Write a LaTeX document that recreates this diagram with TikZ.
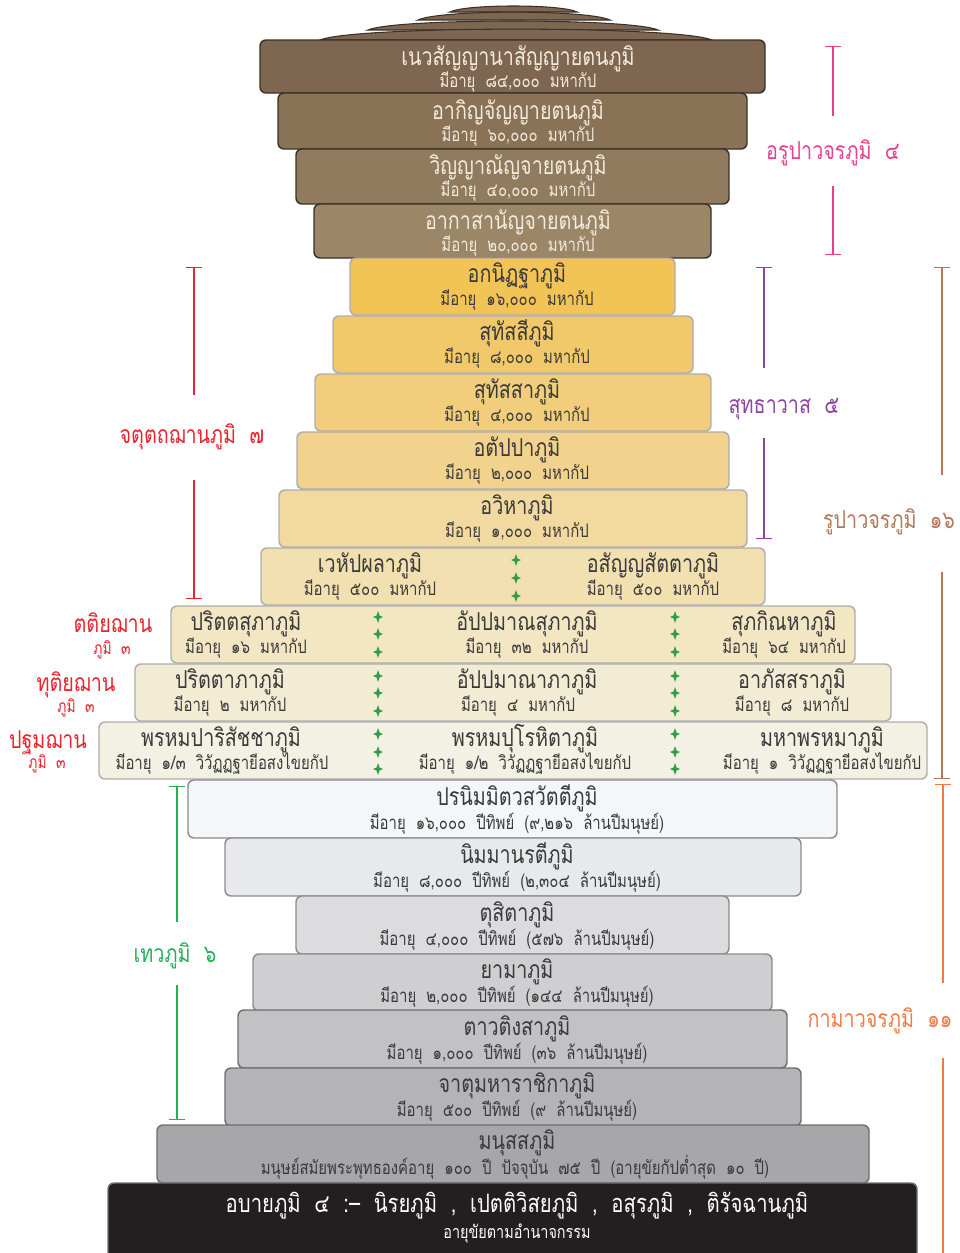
\documentclass[tikz,border=0pt]{standalone}
\usepackage{fontspec}
\setmainfont[Script=Thai,FakeStretch=0.8,WordSpace=2]{Loma}
\usetikzlibrary{arrows.meta}
\newcommand\ttl{\fontsize{18.5}{20}\selectfont}
\newcommand\sbt{\fontsize{14}{16}\selectfont}
\newcommand\lbl{\fontsize{18.5}{20}\selectfont}
\newcommand\slbl{\fontsize{13}{15}\selectfont}
\definecolor{ar1}{HTML}{7F6650}
\definecolor{ar2}{HTML}{8A7257}
\definecolor{ar3}{HTML}{917B5F}
\definecolor{ar4}{HTML}{9B8667}
\definecolor{arline}{HTML}{3B3129}
\definecolor{artext}{HTML}{F3EBDD}
\definecolor{r5}{HTML}{F2C355}
\definecolor{r6}{HTML}{F2C96A}
\definecolor{r7}{HTML}{F2CE7C}
\definecolor{r8}{HTML}{F2D38D}
\definecolor{r9}{HTML}{F2D99F}
\definecolor{r10}{HTML}{F2E0B0}
\definecolor{r11}{HTML}{F3E6C3}
\definecolor{r12}{HTML}{F3ECD5}
\definecolor{r13}{HTML}{F2F1E4}
\definecolor{rline}{HTML}{ADADAD}
\definecolor{k14}{HTML}{F5F6F8}
\definecolor{k15}{HTML}{E8E9EB}
\definecolor{k16}{HTML}{DCDCDE}
\definecolor{k17}{HTML}{CFCFD1}
\definecolor{k18}{HTML}{C2C2C5}
\definecolor{k19}{HTML}{B4B4B7}
\definecolor{k20}{HTML}{A7A7AA}
\definecolor{k21}{HTML}{231F20}
\definecolor{kline}{HTML}{8C8C8E}
\definecolor{kline2}{HTML}{6E6E70}
\definecolor{dtext}{HTML}{3A3A3A}
\definecolor{cpink}{HTML}{E8408E}
\definecolor{cpurple}{HTML}{8E44A0}
\definecolor{cbrown}{HTML}{B5775A}
\definecolor{corange}{HTML}{F07C45}
\definecolor{cred}{HTML}{E8242E}
\definecolor{cgreen}{HTML}{22B05A}
\definecolor{starc}{HTML}{2E9E48}
\tikzset{
  tierbox/.style={rounded corners=4.5pt, line width=1.1pt},
  arbox/.style={tierbox, draw=arline},
  rbox/.style={tierbox, draw=rline},
  kbox/.style={tierbox, draw=kline},
  kbox2/.style={tierbox, draw=kline2},
  tt/.style={anchor=base, inner sep=0pt, font=\ttl},
  st/.style={anchor=base, inner sep=0pt, font=\sbt},
  lb/.style={anchor=base, inner sep=0pt, font=\lbl},
  slb/.style={anchor=base, inner sep=0pt, font=\slbl},
  brk/.style={line width=1.1pt},
  gstar/.pic={\fill[starc] (0,-6) -- (1.5,-1.5) -- (5,0) -- (1.5,1.5) -- (0,6) -- (-1.5,1.5) -- (-5,0) -- (-1.5,-1.5) -- cycle;},
  domecap/.style={fill=ar1, draw=arline, line width=0.8pt}
}
\begin{document}
\begin{tikzpicture}[x=0.75pt,y=-0.75pt]
\useasboundingbox (0,0) rectangle (960,1253);
% top caps
\draw[domecap] (450,12) .. controls (465,4) and (562,4) .. (577,12) -- cycle;
\draw[domecap] (418,20) .. controls (440,9.5) and (588,9.5) .. (610,20) -- cycle;
\draw[domecap] (368,30) .. controls (395,18) and (631,18) .. (658,30) -- cycle;
\draw[domecap] (320,40) .. controls (355,25.5) and (677,25.5) .. (712,40) -- cycle;
% arupa
\draw[arbox, fill=ar1] (260,40) rectangle (765,93);
\draw[arbox, fill=ar2] (278,93) rectangle (747,149);
\draw[arbox, fill=ar3] (296,149) rectangle (729,204);
\draw[arbox, fill=ar4] (314,204) rectangle (711,258);
\node[tt, text=artext] (t1) at (518,65) {เนวสัญญานาสัญญายตนภูมิ};
\node[st, text=artext] (s1) at (518,87) {มีอายุ ๘๔,๐๐๐ มหากัป};
\node[tt, text=artext] (t2) at (518,119) {อากิญจัญญายตนภูมิ};
\node[st, text=artext] (s2) at (518,141) {มีอายุ ๖๐,๐๐๐ มหากัป};
\node[tt, text=artext] (t3) at (518,174) {วิญญาณัญจายตนภูมิ};
\node[st, text=artext] (s3) at (518,196) {มีอายุ ๔๐,๐๐๐ มหากัป};
\node[tt, text=artext] (t4) at (518,229) {อากาสานัญจายตนภูมิ};
\node[st, text=artext] (s4) at (518,251) {มีอายุ ๒๐,๐๐๐ มหากัป};
% rupa
\draw[rbox, fill=r5] (350,258) rectangle (675,315);
\draw[rbox, fill=r6] (333,316) rectangle (693,373);
\draw[rbox, fill=r7] (315,374) rectangle (711,431);
\draw[rbox, fill=r8] (297,432) rectangle (729,489);
\draw[rbox, fill=r9] (279,490) rectangle (747,547);
\draw[rbox, fill=r10] (261,548) rectangle (765,605);
\draw[rbox, fill=r11] (171,606) rectangle (855,663);
\draw[rbox, fill=r12] (135,664) rectangle (891,721);
\draw[rbox, fill=r13] (99,722) rectangle (927,779);
\node[tt, text=dtext] (t5) at (517,282) {อกนิฏฐาภูมิ};
\node[st, text=dtext] (s5) at (517,305) {มีอายุ ๑๖,๐๐๐ มหากัป};
\node[tt, text=dtext] (t6) at (517,340) {สุทัสสีภูมิ};
\node[st, text=dtext] (s6) at (517,363) {มีอายุ ๘,๐๐๐ มหากัป};
\node[tt, text=dtext] (t7) at (517,398) {สุทัสสาภูมิ};
\node[st, text=dtext] (s7) at (517,421) {มีอายุ ๔,๐๐๐ มหากัป};
\node[tt, text=dtext] (t8) at (517,456) {อตัปปาภูมิ};
\node[st, text=dtext] (s8) at (517,479) {มีอายุ ๒,๐๐๐ มหากัป};
\node[tt, text=dtext] (t9) at (517,514) {อวิหาภูมิ};
\node[st, text=dtext] (s9) at (517,537) {มีอายุ ๑,๐๐๐ มหากัป};
\node[tt, text=dtext] (t10a) at (370,572) {เวหัปผลาภูมิ};
\node[st, text=dtext] (s10a) at (370,595) {มีอายุ ๕๐๐ มหากัป};
\node[tt, text=dtext] (t10b) at (653,572) {อสัญญสัตตาภูมิ};
\node[st, text=dtext] (s10b) at (653,595) {มีอายุ ๕๐๐ มหากัป};
\node[tt, text=dtext] (t11a) at (246,630) {ปริตตสุภาภูมิ};
\node[st, text=dtext] (s11a) at (246,653) {มีอายุ ๑๖ มหากัป};
\node[tt, text=dtext] (t11b) at (527,630) {อัปปมาณสุภาภูมิ};
\node[st, text=dtext] (s11b) at (527,653) {มีอายุ ๓๒ มหากัป};
\node[tt, text=dtext] (t11c) at (784,630) {สุภกิณหาภูมิ};
\node[st, text=dtext] (s11c) at (784,653) {มีอายุ ๖๔ มหากัป};
\node[tt, text=dtext] (t12a) at (230,688) {ปริตตาภาภูมิ};
\node[st, text=dtext] (s12a) at (230,711) {มีอายุ ๒ มหากัป};
\node[tt, text=dtext] (t12b) at (527,688) {อัปปมาณาภาภูมิ};
\node[st, text=dtext] (s12b) at (518,711) {มีอายุ ๔ มหากัป};
\node[tt, text=dtext] (t12c) at (792,688) {อาภัสสราภูมิ};
\node[st, text=dtext] (s12c) at (792,711) {มีอายุ ๘ มหากัป};
\node[tt, text=dtext] (t13a) at (221,746) {พรหมปาริสัชชาภูมิ};
\node[st, text=dtext] (s13a) at (222,769) {มีอายุ ๑/๓ วิวัฏฏฐายีอสงไขยกัป};
\node[tt, text=dtext] (t13b) at (525,746) {พรหมปุโรหิตาภูมิ};
\node[st, text=dtext] (s13b) at (525,769) {มีอายุ ๑/๒ วิวัฏฏฐายีอสงไขยกัป};
\node[tt, text=dtext] (t13c) at (822,746) {มหาพรหมาภูมิ};
\node[st, text=dtext] (s13c) at (822,769) {มีอายุ ๑ วิวัฏฏฐายีอสงไขยกัป};
% stars
\foreach \yy in {560,578,596} \pic at (516,\yy) {gstar};
\foreach \yy in {617,634,652,676,693,711,734,752,769} {\pic at (378,\yy) {gstar}; \pic at (675,\yy) {gstar};}
% kama
\draw[kbox, fill=k14] (188,780) rectangle (837,838);
\draw[kbox, fill=k15] (225,838) rectangle (801,896);
\draw[kbox, fill=k16] (296,896) rectangle (729,954);
\draw[kbox, fill=k17] (253,954) rectangle (772,1011);
\draw[kbox2, fill=k18] (238,1010) rectangle (787,1068);
\draw[kbox2, fill=k19] (225,1068) rectangle (801,1126);
\draw[kbox2, fill=k20] (157,1125) rectangle (869,1183);
\draw[tierbox, draw=kline2, fill=k21] (108,1183) rectangle (917,1265);
\node[tt, text=dtext] (t14) at (517,805) {ปรนิมมิตวสวัตตีภูมิ};
\node[st, text=dtext] (s14) at (517,829) {มีอายุ ๑๖,๐๐๐ ปีทิพย์ (๙,๒๑๖ ล้านปีมนุษย์)};
\node[tt, text=dtext] (t15) at (517,863) {นิมมานรตีภูมิ};
\node[st, text=dtext] (s15) at (517,887) {มีอายุ ๘,๐๐๐ ปีทิพย์ (๒,๓๐๔ ล้านปีมนุษย์)};
\node[tt, text=dtext] (t16) at (517,921) {ตุสิตาภูมิ};
\node[st, text=dtext] (s16) at (517,945) {มีอายุ ๔,๐๐๐ ปีทิพย์ (๕๗๖ ล้านปีมนุษย์)};
\node[tt, text=dtext] (t17) at (517,978) {ยามาภูมิ};
\node[st, text=dtext] (s17) at (517,1002) {มีอายุ ๒,๐๐๐ ปีทิพย์ (๑๔๔ ล้านปีมนุษย์)};
\node[tt, text=dtext] (t18) at (517,1035) {ตาวติงสาภูมิ};
\node[st, text=dtext] (s18) at (517,1059) {มีอายุ ๑,๐๐๐ ปีทิพย์ (๓๖ ล้านปีมนุษย์)};
\node[tt, text=dtext] (t19) at (517,1092) {จาตุมหาราชิกาภูมิ};
\node[st, text=dtext] (s19) at (517,1116) {มีอายุ ๕๐๐ ปีทิพย์ (๙ ล้านปีมนุษย์)};
\node[tt, text=dtext] (t20) at (517,1149) {มนุสสภูมิ};
\node[st, text=dtext] (s20) at (515,1174) {มนุษย์สมัยพระพุทธองค์อายุ ๑๐๐ ปี ปัจจุบัน ๗๕ ปี (อายุขัยกัปต่ำสุด ๑๐ ปี)};
\node[anchor=base, inner sep=0pt, text=white, font=\fontsize{19}{21}\selectfont] (t21) at (517,1212) {อบายภูมิ ๔ :– นิรยภูมิ , เปตติวิสยภูมิ , อสุรภูมิ , ติรัจฉานภูมิ};
\node[anchor=base, inner sep=0pt, text=white, font=\fontsize{13.5}{15}\selectfont] (s21) at (517,1238) {อายุขัยตามอำนาจกรรม};
% right brackets
\node[lb, text=cpink] (Larupa) at (833,159) {อรูปาวจรภูมิ ๔};
\draw[brk, cpink, {Bar[width=12pt]}-] (833,46) -- (833,116);
\draw[brk, cpink, -{Bar[width=12pt]}] (833,186) -- (833,255);
\node[lb, text=cpurple] (Lsuddha) at (784,413) {สุทธาวาส ๕};
\draw[brk, cpurple, {Bar[width=12pt]}-] (764,267) -- (764,368);
\draw[brk, cpurple, -{Bar[width=12pt]}] (764,438) -- (764,539);
\node[lb, text=cbrown] (Lrupa) at (889,528) {รูปาวจรภูมิ ๑๖};
\draw[brk, cbrown, {Bar[width=12pt]}-] (942,267) -- (942,475);
\draw[brk, cbrown, -{Bar[width=12pt]}] (942,572) -- (942,779);
\node[lb, text=corange] (Lkama) at (880,1027) {กามาวจรภูมิ ๑๑};
\draw[brk, corange, {Bar[width=12pt]}-] (943,784) -- (943,983);
\draw[brk, corange] (943,1058) -- (943,1253);
% left brackets
\node[lb, text=cred] (Ljhana4) at (192,443) {จตุตถฌานภูมิ ๗};
\draw[brk, cred, {Bar[width=12pt]}-] (194,267) -- (194,395);
\draw[brk, cred, -{Bar[width=12pt]}] (194,480) -- (194,599);
\node[lb, text=cred] (Lj3) at (113,632) {ตติยฌาน};
\node[slb, text=cred] (Lj3b) at (112,654) {ภูมิ ๓};
\node[lb, text=cred] (Lj2) at (76,691) {ทุติยฌาน};
\node[slb, text=cred] (Lj2b) at (76,712) {ภูมิ ๓};
\node[lb, text=cred] (Lj1) at (48,748) {ปฐมฌาน};
\node[slb, text=cred] (Lj1b) at (47,768) {ภูมิ ๓};
\node[lb, text=cgreen] (Ldeva) at (175,962) {เทวภูมิ ๖};
\draw[brk, cgreen, {Bar[width=12pt]}-] (177,786) -- (177,922);
\draw[brk, cgreen, -{Bar[width=12pt]}] (177,985) -- (177,1120);
\end{tikzpicture}
\end{document}
